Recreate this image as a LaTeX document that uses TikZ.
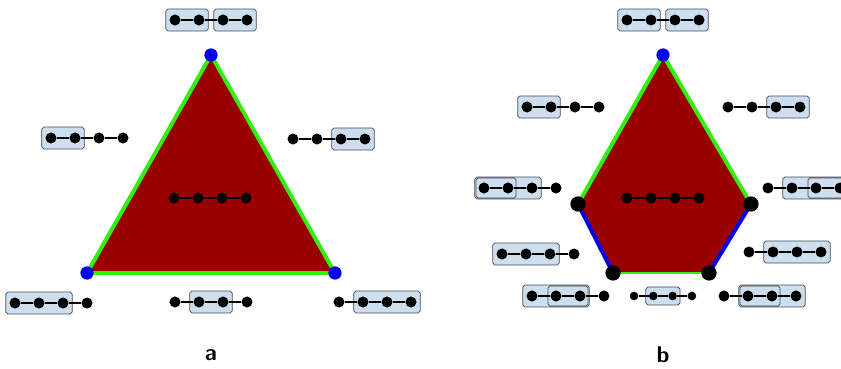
\documentclass[tikz,border=0pt]{standalone}
\usetikzlibrary{fit,backgrounds}
\definecolor{polyred}{HTML}{990000}
\definecolor{edgegreen}{HTML}{33EE11}
\definecolor{edgeblue}{HTML}{0000EE}
\definecolor{boxfill}{HTML}{CDDEEF}
\definecolor{boxline}{HTML}{4A4A55}
\tikzset{
  dot/.style={circle, fill=black, inner sep=0pt, minimum size=8.3pt},
  pedge/.style={line width=2pt},
  grpbox/.style={draw=boxline, fill=boxfill, rounded corners=1.5pt, line width=0.6pt, inner xsep=2.6pt, inner ysep=3.9pt},
  subbox/.style={grpbox, inner xsep=1.7pt, inner ysep=3.3pt},
  vtx/.style={circle, fill=edgeblue, inner sep=0pt, minimum size=10pt},
  cvtx/.style={circle, fill=black, inner sep=0pt, minimum size=11.5pt},
  side/.style={line width=3pt, line cap=round},
  panel/.style={font=\sffamily\bfseries\LARGE}
}
% four dots in a row: [spacing]{name}{x}{y}
\newcommand{\pgraph}[4][24]{%
  \foreach \k in {1,...,4}
    \node[dot] (#2\k) at ({#3+(\k-1)*#1},#4) {};
  \draw[pedge] (#21) -- (#22) -- (#23) -- (#24);
}
\begin{document}
\begin{tikzpicture}[x=0.0265cm,y=-0.0265cm]
\useasboundingbox (0,0) rectangle (841,369);

%% panel a
\coordinate (a1) at (211,55);
\coordinate (a2) at (87,273);
\coordinate (a3) at (335,273);
\draw[side, edgegreen, fill=polyred, line join=round] (a1) -- (a2) -- (a3) -- cycle;
\node[vtx] (va1) at (a1) {};
\node[vtx] (va2) at (a2) {};
\node[vtx] (va3) at (a3) {};

\pgraph{at}{175}{20}
\pgraph{al}{51}{138}
\pgraph{ar}{293}{139}
\pgraph{ac}{174}{198}
\pgraph{abl}{15}{303}
\pgraph{abm}{175}{302}
\pgraph{abr}{339}{302}

\begin{scope}[on background layer]
\node[grpbox, fit=(at1)(at2)] (atbox1) {};
\node[grpbox, fit=(at3)(at4)] (atbox2) {};
\node[grpbox, fit=(al1)(al2)] (albox) {};
\node[grpbox, fit=(ar3)(ar4)] (arbox) {};
\node[grpbox, fit=(abl1)(abl3)] (ablbox) {};
\node[grpbox, fit=(abm2)(abm3)] (abmbox) {};
\node[grpbox, fit=(abr2)(abr4)] (abrbox) {};
\end{scope}

\node[panel] (la) at (211,355) {a};

%% panel b
\coordinate (b1) at (663,55);
\coordinate (b2) at (751,204);
\coordinate (b3) at (709,273);
\coordinate (b4) at (613,273);
\coordinate (b5) at (578,204);
\fill[polyred] (b1) -- (b2) -- (b3) -- (b4) -- (b5) -- cycle;
\draw[side, edgegreen] (b5) -- (b1) -- (b2);
\draw[side, edgeblue] (b2) -- (b3);
\draw[side, edgeblue] (b4) -- (b5);
\draw[edgegreen, line width=1.5pt] (b3) -- (b4);
\node[vtx] (vb1) at (b1) {};
\node[cvtx] (vb2) at (b2) {};
\node[cvtx] (vb3) at (b3) {};
\node[cvtx] (vb4) at (b4) {};
\node[cvtx] (vb5) at (b5) {};

\pgraph{bt}{627}{20}
\pgraph{bul}{527}{107}
\pgraph{bur}{728}{107}
\pgraph{bml}{484}{188}
\pgraph{bll}{502}{254}
\pgraph{bmr}{768}{188}
\pgraph{blr}{749}{252}
\pgraph{bbl}{532}{296}
\pgraph{bbr}{724}{296}
\pgraph{bc}{627}{198}
\begin{scope}[dot/.style={circle, fill=black, inner sep=0pt, minimum size=6.5pt}, pedge/.style={line width=1.6pt}]
\pgraph[19.3]{bbm}{634}{296}
\end{scope}

\begin{scope}[on background layer]
\node[grpbox, fit=(bt1)(bt2)] (btbox1) {};
\node[grpbox, fit=(bt3)(bt4)] (btbox2) {};
\node[grpbox, fit=(bul1)(bul2)] (bulbox) {};
\node[grpbox, fit=(bur3)(bur4)] (burbox) {};
\node[grpbox, fit=(bml1)(bml3)] (bmlbox) {};
\node[subbox, fit=(bml1)(bml2)] (bmlsub) {};
\node[grpbox, fit=(bll1)(bll3)] (bllbox) {};
\node[grpbox, fit=(bmr2)(bmr4)] (bmrbox) {};
\node[subbox, fit=(bmr3)(bmr4)] (bmrsub) {};
\node[grpbox, fit=(blr2)(blr4)] (blrbox) {};
\node[grpbox, fit=(bbl1)(bbl3)] (bblbox) {};
\node[subbox, fit=(bbl2)(bbl3)] (bblsub) {};
\node[grpbox, inner xsep=2.2pt, inner ysep=3.3pt, fit=(bbm2)(bbm3)] (bbmbox) {};
\node[grpbox, fit=(bbr2)(bbr4)] (bbrbox) {};
\node[subbox, fit=(bbr2)(bbr3)] (bbrsub) {};
\end{scope}

\node[panel] (lb) at (663,355) {b};
\end{tikzpicture}
\end{document}
